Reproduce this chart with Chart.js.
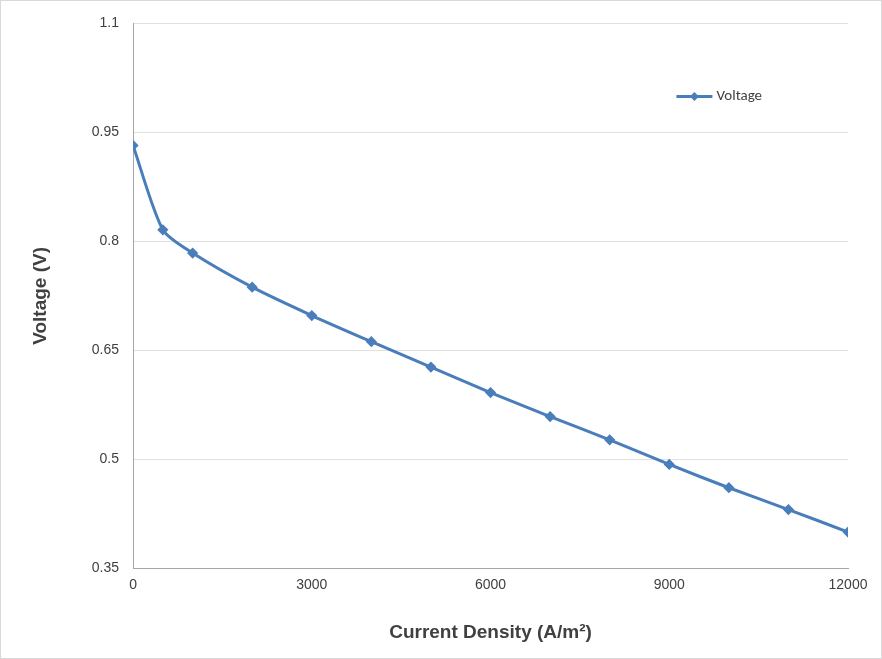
<!DOCTYPE html>
<html>
<head>
<meta charset="utf-8">
<script src="https://cdn.jsdelivr.net/npm/chart.js@4"></script>
<style>
  html, body { margin: 0; padding: 0; background: #fff; }
  #wrap { width: 880px; height: 657px; border: 1px solid #d9d9d9; }
</style>
</head>
<body>
<div id="wrap"><canvas id="c"></canvas></div>
<script>
const currentDensity = [0, 500, 1000, 2000, 3000, 4000, 5000, 6000, 7000, 8000, 9000, 10000, 11000, 12000];
const voltage = [0.932, 0.816, 0.784, 0.737, 0.698, 0.662, 0.627, 0.592, 0.559, 0.527, 0.493, 0.461, 0.431, 0.400];
const yTicks = [0.35, 0.5, 0.65, 0.8, 0.95, 1.1];
const lineColor = '#4a7ebb';

// legend drawn inside the plot, top right like the original
const insideLegend = {
  id: 'insideLegend',
  afterDraw(chart) {
    const c = chart.ctx;
    const a = chart.chartArea;
    const x = a.left + (a.right - a.left) * 0.76, y = a.top + 73;
    c.save();
    c.strokeStyle = lineColor; c.lineWidth = 3;
    c.beginPath(); c.moveTo(x, y); c.lineTo(x + 36, y); c.stroke();
    c.fillStyle = lineColor;
    c.beginPath();
    c.moveTo(x + 18, y - 4.5); c.lineTo(x + 22.5, y); c.lineTo(x + 18, y + 4.5); c.lineTo(x + 13.5, y);
    c.closePath(); c.fill();
    c.fillStyle = '#404040';
    c.font = '15px Carlito, Calibri, "Liberation Sans", sans-serif';
    c.textBaseline = 'middle';
    c.fillText(chart.data.datasets[0].label, x + 40, y);
    c.restore();
  }
};

const ctx = document.getElementById('c').getContext('2d');
new Chart(ctx, {
  type: 'line',
  data: {
    datasets: [{
      label: 'Voltage',
      data: currentDensity.map((x, i) => ({ x: x, y: voltage[i] })),
      borderColor: lineColor,
      backgroundColor: lineColor,
      borderWidth: 3,
      pointStyle: 'rectRot',
      pointRadius: 3.5,
      tension: 0.25,
      fill: false
    }]
  },
  plugins: [insideLegend],
  options: {
    responsive: true,
    maintainAspectRatio: false,
    animation: false,
    layout: { padding: { top: 20, right: 33, left: 24, bottom: 10 } },
    plugins: {
      legend: { display: false },
      tooltip: { enabled: false }
    },
    scales: {
      x: {
        type: 'linear',
        min: 0, max: 12000,
        ticks: {
          stepSize: 3000, color: '#404040', padding: 8,
          font: { family: '"Liberation Sans", sans-serif', size: 14 },
          callback: v => String(v)
        },
        grid: { display: false, drawTicks: false },
        border: { color: '#a6a6a6' },
        title: {
          display: true,
          text: 'Current Density (A/m²)',
          color: '#404040',
          font: { family: '"Liberation Sans", sans-serif', size: 19, weight: 'bold' },
          padding: { top: 20 }
        }
      },
      y: {
        min: 0.35, max: 1.1,
        afterBuildTicks: axis => { axis.ticks = yTicks.map(v => ({ value: v })); },
        ticks: {
          color: '#404040',
          font: { family: '"Liberation Sans", sans-serif', size: 14 },
          padding: 14,
          callback: v => String(+v.toFixed(2))
        },
        grid: { color: '#e0e0e0', drawTicks: false },
        border: { color: '#a6a6a6' },
        title: {
          display: true,
          text: 'Voltage (V)',
          color: '#404040',
          font: { family: '"Liberation Sans", sans-serif', size: 19, weight: 'bold' },
          padding: { bottom: 26 }
        }
      }
    }
  }
});
</script>
</body>
</html>
